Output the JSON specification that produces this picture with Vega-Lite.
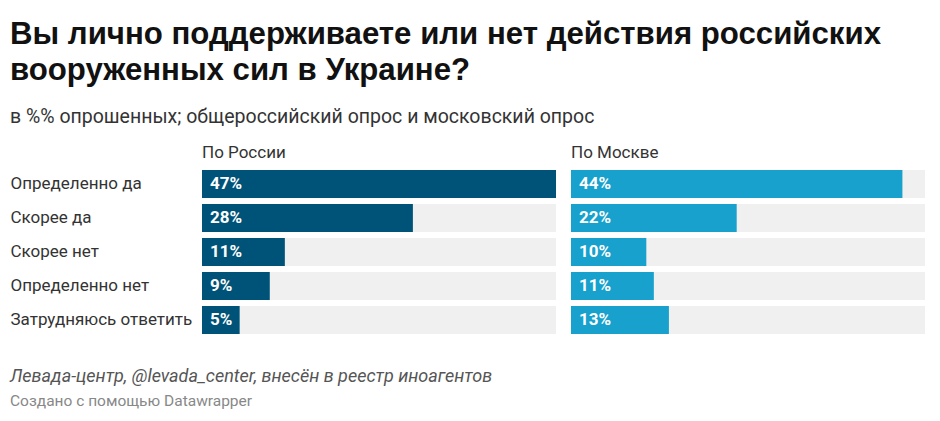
{
  "$schema": "https://vega.github.io/schema/vega-lite/v6.json",
  "padding": {"left": 10, "top": 19, "right": 10, "bottom": 10},
  "background": "white",
  "title": {
    "text": ["Вы лично поддерживаете или нет действия российских", "вооруженных сил в Украине?"],
    "subtitle": "в %% опрошенных; общероссийский опрос и московский опрос",
    "anchor": "start",
    "frame": "bounds",
    "font": "Liberation Sans",
    "fontSize": 31.2,
    "fontWeight": "bold",
    "lineHeight": 36,
    "color": "#111111",
    "subtitleFont": "Roboto",
    "subtitleFontSize": 19.5,
    "subtitleColor": "#333333",
    "subtitlePadding": 21,
    "offset": 18
  },
  "data": {
    "values": [
      {"answer": "Определенно да", "region": "По России", "value": 0.47},
      {"answer": "Скорее да", "region": "По России", "value": 0.28},
      {"answer": "Скорее нет", "region": "По России", "value": 0.11},
      {"answer": "Определенно нет", "region": "По России", "value": 0.09},
      {"answer": "Затрудняюсь ответить", "region": "По России", "value": 0.05},
      {"answer": "Определенно да", "region": "По Москве", "value": 0.44},
      {"answer": "Скорее да", "region": "По Москве", "value": 0.22},
      {"answer": "Скорее нет", "region": "По Москве", "value": 0.10},
      {"answer": "Определенно нет", "region": "По Москве", "value": 0.11},
      {"answer": "Затрудняюсь ответить", "region": "По Москве", "value": 0.13}
    ]
  },
  "vconcat": [
    {
      "title": {
        "text": "Левада-центр, @levada_center, внесён в реестр иноагентов",
        "subtitle": "Создано с помощью Datawrapper",
        "orient": "bottom",
        "anchor": "start",
        "frame": "bounds",
        "font": "Roboto",
        "fontSize": 18,
        "fontStyle": "italic",
        "fontWeight": "normal",
        "color": "#555555",
        "subtitleFont": "Roboto",
        "subtitleFontSize": 15.5,
        "subtitleColor": "#888888",
        "subtitlePadding": 8,
        "offset": 34
      },
      "facet": {
        "column": {
          "field": "region",
          "type": "nominal",
          "sort": ["По России", "По Москве"],
          "header": {
            "title": null,
            "labelAnchor": "start",
            "labelFont": "Roboto",
            "labelFontSize": 17,
            "labelColor": "#333333",
            "labelPadding": 8
          }
        }
      },
      "spacing": 15,
      "spec": {
        "width": 354,
        "height": 164,
        "encoding": {
          "y": {
            "field": "answer",
            "type": "nominal",
            "sort": ["Определенно да", "Скорее да", "Скорее нет", "Определенно нет", "Затрудняюсь ответить"],
            "scale": {"paddingInner": 0.176, "paddingOuter": 0},
            "axis": {
              "title": null,
              "ticks": false,
              "domain": false,
              "labelAlign": "left",
              "labelPadding": 192,
              "labelLimit": 250,
              "labelFont": "Roboto",
              "labelFontSize": 17,
              "labelColor": "#333333"
            }
          }
        },
        "layer": [
          {
            "mark": {"type": "bar", "color": "#f0f0f0"},
            "encoding": {
              "x": {"datum": 0.47, "type": "quantitative", "scale": {"domain": [0, 0.47], "nice": false}, "axis": null}
            }
          },
          {
            "mark": {"type": "bar"},
            "encoding": {
              "x": {"field": "value", "type": "quantitative"},
              "color": {
                "field": "region",
                "type": "nominal",
                "scale": {"domain": ["По России", "По Москве"], "range": ["#005378", "#18a1cd"]},
                "legend": null
              }
            }
          },
          {
            "mark": {"type": "text", "align": "left", "dx": 8, "color": "white", "font": "Roboto", "fontSize": 17, "fontWeight": "bold"},
            "encoding": {
              "x": {"datum": 0, "type": "quantitative"},
              "text": {"field": "value", "type": "quantitative", "format": ".0%"}
            }
          }
        ]
      }
    }
  ],
  "config": {
    "view": {"stroke": null},
    "font": "Roboto"
  }
}
